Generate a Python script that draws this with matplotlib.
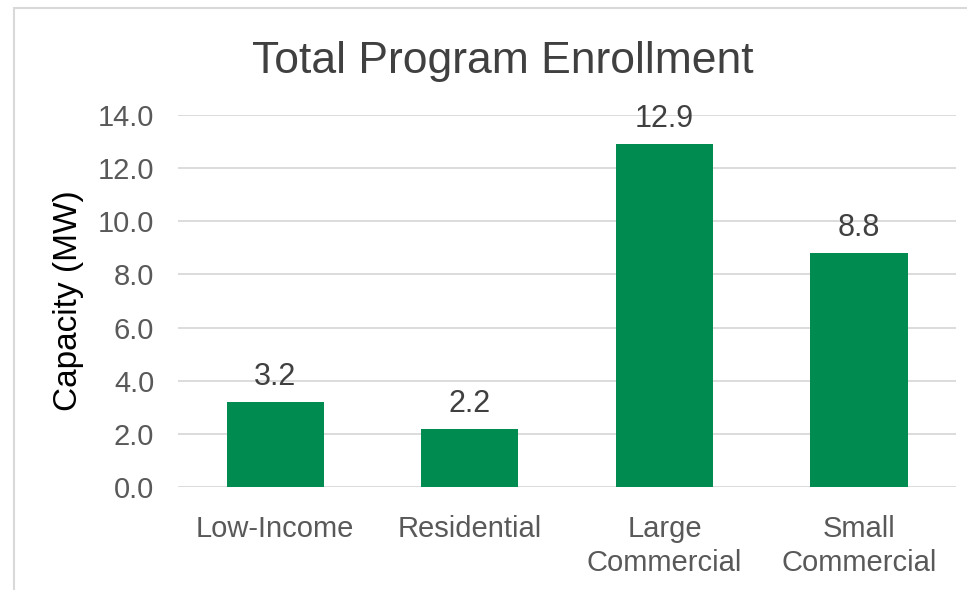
import matplotlib
matplotlib.use('Agg')
import matplotlib.pyplot as plt
from matplotlib.patches import Rectangle

categories = ['Low-Income', 'Residential', 'Large\nCommercial', 'Small\nCommercial']
capacity = [3.2, 2.2, 12.9, 8.8]
yticks = [0, 2, 4, 6, 8, 10, 12, 14]

bar_color = '#008C50'
text_color = '#595959'
grid_color = '#D9D9D9'

plt.rcParams['font.family'] = ['Liberation Sans', 'DejaVu Sans']

fig = plt.figure(figsize=(9.67, 5.90), dpi=100)
ax = fig.add_axes([0.184, 0.1746, 0.805, 0.6305])

x = range(len(categories))
bars = ax.bar(x, capacity, width=0.5, color=bar_color, zorder=3)

ax.set_xlim(-0.5, len(categories) - 0.5)
ax.set_ylim(0, 14)
ax.set_yticks(yticks)
ax.set_yticklabels([f'{v:.1f}' for v in yticks])
ax.set_xticks(list(x))
ax.set_xticklabels(categories, linespacing=1.3, va='top')

ax.tick_params(axis='both', length=0, labelsize=21, colors=text_color)
ax.tick_params(axis='x', pad=20)
ax.tick_params(axis='y', pad=17)
ax.grid(axis='y', color=grid_color, linewidth=1.3, zorder=0)
for s in ax.spines.values():
    s.set_visible(False)

for b, v in zip(bars, capacity):
    ax.annotate(f'{v:.1f}', (b.get_x() + b.get_width() / 2, v),
                xytext=(0, 7), textcoords='offset points',
                ha='center', va='bottom', fontsize=22, color='#404040')

ax.set_ylabel('Capacity (MW)', fontsize=24, color='black', labelpad=10)

fig.text(0.52, 0.896, 'Total Program Enrollment', ha='center', va='center',
         fontsize=32, color='#404040')

# outer chart frame (cut off at right and bottom)
fig.patches.append(Rectangle((0.0145, -0.1), 1.2, 1.086, transform=fig.transFigure,
                             fill=False, edgecolor=grid_color, linewidth=1.5))

fig.savefig('out.png', dpi=100)
plt.close()
